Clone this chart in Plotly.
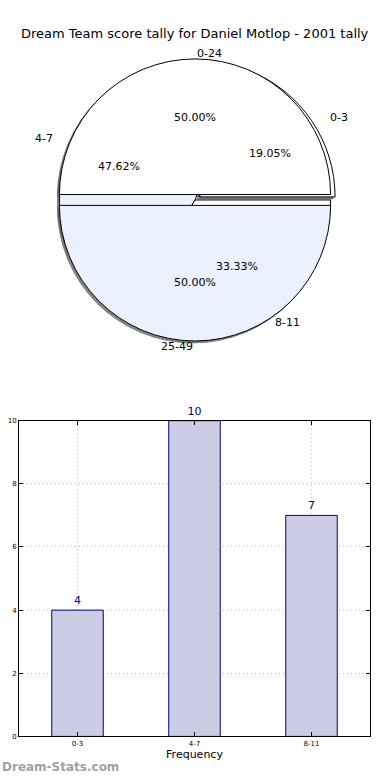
import math
import plotly.graph_objects as go

W, H = 390, 780

title = "Dream Team score tally for Daniel Motlop - 2001 tally"

outer_labels = ["0-24", "25-49"]
outer_values = [50.0, 50.0]
inner_labels = ["0-3", "4-7", "8-11"]
inner_values = [4, 10, 7]

bar_cats = ["0-3", "4-7", "8-11"]
bar_vals = [4, 10, 7]
y_ticks = [0, 2, 4, 6, 8, 10]

WHITE = "#ffffff"
LBLUE = "#ebf1fe"
outer_colors = [WHITE, LBLUE]
inner_colors = [WHITE, LBLUE, WHITE]
outer_pull = [0.04, 0.04]
inner_pull = [0.04, 0.0, 0.0]

FONT = "DejaVu Sans"

# pie geometry (pixels)
cx, cy = 195, 198
R = 137
PMAX = 0.04
half = R * (1 + PMAX)


def dom(cxp, cyp):
    return dict(x=[(cxp - half) / W, (cxp + half) / W],
                y=[1 - (cyp + half) / H, 1 - (cyp - half) / H])


def px2paper(x, y):
    return x / W, 1 - y / H


def start_rot(values):
    # plotly (counterclockwise) places the first slice clockwise of `rotation`;
    # shift so the first slice starts at 3 o'clock and runs counterclockwise
    return 90 - 360.0 * values[0] / sum(values)


fig = go.Figure()

SH = "rgba(105,105,105,0.8)"
# shadows
for vals, pulls in ((inner_values, inner_pull), (outer_values, outer_pull)):
    fig.add_trace(go.Pie(
        values=vals, sort=False, direction="counterclockwise",
        rotation=start_rot(vals),
        pull=pulls, domain=dom(cx - 2, cy + 2), textinfo="none",
        hoverinfo="skip", showlegend=False,
        marker=dict(colors=[SH] * len(vals), line=dict(color=SH, width=1)),
    ))

fig.add_trace(go.Pie(
    labels=inner_labels, values=inner_values, sort=False,
    direction="counterclockwise", rotation=start_rot(inner_values),
    pull=inner_pull, domain=dom(cx, cy), textinfo="none", showlegend=False,
    marker=dict(colors=inner_colors, line=dict(color="black", width=1)),
))
fig.add_trace(go.Pie(
    labels=outer_labels, values=outer_values, sort=False,
    direction="counterclockwise", rotation=start_rot(outer_values),
    pull=outer_pull, domain=dom(cx, cy), textinfo="none", showlegend=False,
    marker=dict(colors=outer_colors, line=dict(color="black", width=1)),
))

annotations = []
rx, ry = 141, 130


def pie_annots(labels, values, pulls):
    tot = sum(values)
    start = 0.0
    for lab, v, e in zip(labels, values, pulls):
        frac = v / tot
        th = 2 * math.pi * (start + frac / 2)
        c, s = math.cos(th), math.sin(th)
        lx = cx + (e + 1.1) * rx * c
        ly = cy - (e + 1.1) * ry * s
        px_, py_ = px2paper(lx, ly)
        annotations.append(dict(
            x=px_, y=py_, xref="paper", yref="paper", text=lab,
            showarrow=False, xanchor="left" if c > 0 else "right",
            yanchor="middle", font=dict(family=FONT, size=11, color="black")))
        tx = cx + (e + 0.6) * rx * c
        ty = cy - (e + 0.6) * ry * s
        px_, py_ = px2paper(tx, ty)
        annotations.append(dict(
            x=px_, y=py_, xref="paper", yref="paper",
            text="%.2f%%" % (100 * frac), showarrow=False,
            xanchor="center", yanchor="middle",
            font=dict(family=FONT, size=11, color="black")))
        start += frac


pie_annots(inner_labels, inner_values, inner_pull)
pie_annots(outer_labels, outer_values, outer_pull)

# title
annotations.append(dict(
    x=0.5, y=px2paper(0, 30)[1], xref="paper", yref="paper", text=title,
    showarrow=False, xanchor="center", yanchor="middle",
    font=dict(family=FONT, size=13, color="black")))

# bar chart
fig.add_trace(go.Bar(
    x=bar_cats, y=bar_vals, width=0.44,
    marker=dict(color="#cccce4", line=dict(color="#000080", width=1)),
    text=[str(v) for v in bar_vals], textposition="outside",
    textfont=dict(family=FONT, size=11, color="#000080"),
    cliponaxis=False, showlegend=False, xaxis="x", yaxis="y",
))

annotations.append(dict(
    x=0, y=px2paper(0, 771)[1], xref="paper", yref="paper",
    text="<b>Dream-Stats.com</b>", showarrow=False, xanchor="left",
    yanchor="middle", font=dict(family=FONT, size=12, color="#a0a0a0")))

axis_common = dict(showline=True, linecolor="black", linewidth=1, mirror="ticks",
                   ticks="inside", ticklen=4, tickcolor="black",
                   showgrid=True, gridcolor="#bdbdbd", griddash="1px,3px",
                   gridwidth=1, zeroline=False,
                   tickfont=dict(family=FONT, size=7, color="black"))

fig.update_layout(
    width=W, height=H,
    margin=dict(l=0, r=0, t=0, b=0),
    paper_bgcolor="white", plot_bgcolor="white",
    xaxis=dict(domain=[19 / W, 370 / W], range=[-0.5, 2.5],
               title=dict(text="Frequency", font=dict(family=FONT, size=11, color="black"),
                          standoff=2),
               **axis_common),
    yaxis=dict(domain=[1 - 740 / H, 1 - 421 / H], range=[0, 10],
               tickvals=y_ticks, **axis_common),
    annotations=annotations,
)

post = (
    "document.documentElement.style.margin='0';"
    "document.documentElement.style.overflow='hidden';"
    "document.body.style.margin='0';"
    "document.body.style.overflow='hidden';"
    "var g=document.getElementsByClassName('plotly-graph-div')[0];"
    "if(g&&g.parentNode){g.parentNode.style.height='780px';"
    "g.parentNode.style.overflow='hidden';g.parentNode.style.lineHeight='0';}"
)

fig.write_html("out.html", config={"displayModeBar": False}, post_script=post)
